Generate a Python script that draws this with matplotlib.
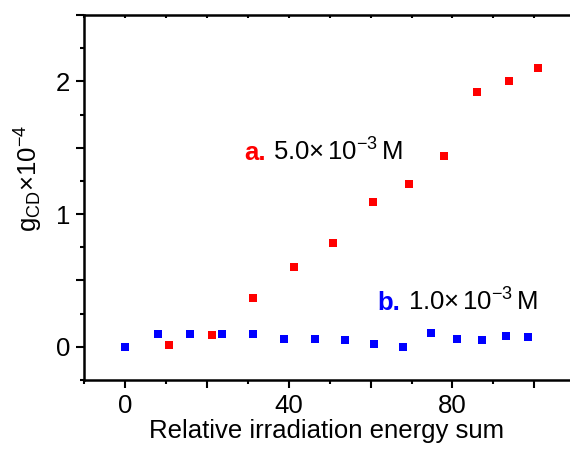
import numpy as np
import matplotlib
matplotlib.use("Agg")
import matplotlib.pyplot as plt
from matplotlib.ticker import MultipleLocator, FuncFormatter

plt.rcParams['font.family'] = ['Liberation Sans', 'DejaVu Sans']
plt.rcParams['mathtext.fontset'] = 'custom'
plt.rcParams['mathtext.rm'] = 'Liberation Sans'
plt.rcParams['mathtext.it'] = 'Liberation Sans'

# %% data
a_x = [10.7, 21.2, 31.2, 41.2, 50.9, 60.5, 69.4, 78.0, 86.0, 93.7, 101.0]
a_y = [0.01, 0.09, 0.37, 0.60, 0.78, 1.09, 1.23, 1.44, 1.92, 2.00, 2.10]

b_x = [0.0, 8.1, 15.9, 23.7, 31.2, 38.9, 46.4, 53.7, 60.9, 67.9, 74.8, 81.1, 87.3, 93.0, 98.5]
b_y = [0.0, 0.10, 0.10, 0.10, 0.10, 0.06, 0.06, 0.055, 0.018, 0.0, 0.105, 0.06, 0.048, 0.083, 0.073]

x_labels = [0, 40, 80]
y_labels = [0, 1, 2]

# %% plot
fig = plt.figure(figsize=(5.7, 4.54), dpi=100)
ax = fig.add_axes([84 / 570, 74 / 454, 486 / 570, 365 / 454])

ax.plot(b_x, b_y, 's', color='#0000FF', ms=5.8, mew=0, zorder=3)
ax.plot(a_x, a_y, 's', color='#FF0000', ms=5.8, mew=0, zorder=3)

ax.set_xlim(-10, 108.7)
ax.set_ylim(-0.25, 2.5)

ax.xaxis.set_major_locator(MultipleLocator(20))
ax.xaxis.set_minor_locator(MultipleLocator(10))
ax.xaxis.set_major_formatter(FuncFormatter(lambda v, p: f"{v:g}" if round(v) in x_labels else ""))
ax.yaxis.set_major_locator(MultipleLocator(0.5))
ax.yaxis.set_minor_locator(MultipleLocator(0.25))
ax.yaxis.set_major_formatter(FuncFormatter(lambda v, p: f"{v:g}" if v in y_labels else ""))

ax.tick_params(which='major', direction='out', length=6, width=1.5, labelsize=18.5, pad=4)
ax.tick_params(which='minor', direction='out', length=3, width=1.5)
ax.xaxis.set_tick_params(which='both', top=True)
for t in ax.xaxis.get_major_ticks() + ax.xaxis.get_minor_ticks():
    t.tick2line.set_marker(3)  # small inward ticks on top
    t.tick2line.set_markersize(2)
for s in ['left', 'bottom', 'top']:
    ax.spines[s].set_linewidth(1.8)
ax.spines['right'].set_visible(False)

ax.set_xlabel('Relative irradiation energy sum', fontsize=18.5, labelpad=1)
ax.set_ylabel(r'$\mathregular{g_{CD}{\times}10^{-4}}$', fontsize=18.5)
ax.yaxis.set_label_coords(-0.08, 0.553)

# labels
ax.text(29.1, 1.406, 'a.', color='#FF0000', fontsize=18.5, fontweight='bold', va='baseline')
ax.text(36.1, 1.406, r'$\mathregular{5.0{\times}\,10^{-3}\,M}$', color='black', fontsize=18.5, va='baseline')
ax.text(61.7, 0.275, 'b.', color='#0000FF', fontsize=18.5, fontweight='bold', va='baseline')
ax.text(69.1, 0.275, r'$\mathregular{1.0{\times}\,10^{-3}\,M}$', color='black', fontsize=18.5, va='baseline')

fig.savefig('out.png', dpi=100)
